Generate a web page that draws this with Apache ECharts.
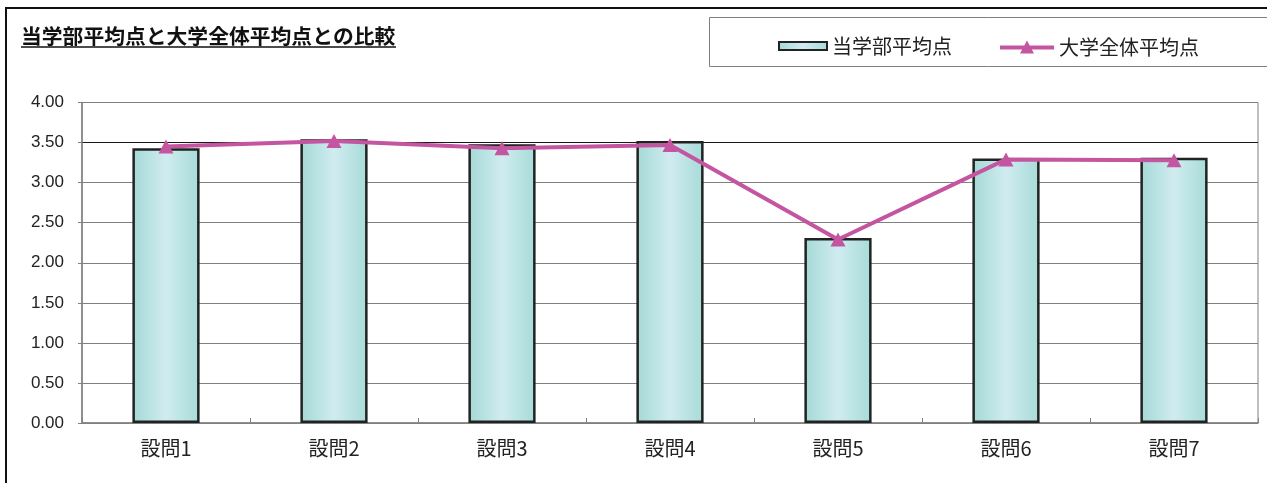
<!DOCTYPE html>
<html>
<head>
<meta charset="utf-8">
<script src="https://cdn.jsdelivr.net/npm/echarts@6/dist/echarts.min.js"></script>
<style>
html,body{margin:0;padding:0;background:#fff;}
#c{width:1267px;height:483px;}
</style>
</head>
<body>
<div id="c"></div>
<script>
const titleText = '当学部平均点と大学全体平均点との比較';
const categories = ['設問1','設問2','設問3','設問4','設問5','設問6','設問7'];
const facultyName = '当学部平均点';
const universityName = '大学全体平均点';
const facultyAvg = [3.43, 3.54, 3.48, 3.52, 2.31, 3.30, 3.31];
const universityAvg = [3.45, 3.52, 3.43, 3.47, 2.29, 3.29, 3.28];

const jp = '"Noto Sans CJK JP", sans-serif';
const chart = echarts.init(document.getElementById('c'), null, {renderer:'canvas'});
const barFill = new echarts.graphic.LinearGradient(0,0,1,0,[
  {offset:0, color:'#a4d9d5'},
  {offset:0.5, color:'#d0ecf1'},
  {offset:1, color:'#a6dbd6'}
]);
const lineColor = '#c455a0';
const gridColors = ['#808080','#808080','#808080','#808080','#808080','#808080','#808080','#1a1a1a','#808080'];
chart.setOption({
  animation:false,
  backgroundColor:'#fff',
  grid:{left:82, right:9, top:102.5, bottom:60, show:true, borderColor:'#808080', borderWidth:1, backgroundColor:'transparent'},
  legend:[
    {
      left:773, top:31, itemWidth:48, itemHeight:8,
      textStyle:{fontFamily:jp, fontSize:20, color:'#222'},
      data:[{name:facultyName, icon:'rect'}]
    },
    {
      left:995, top:32, itemWidth:54, itemHeight:14,
      textStyle:{fontFamily:jp, fontSize:20, color:'#222'},
      data:[{name:universityName, icon:'path://M0,5 L54,5 L54,9 L0,9 Z M20,13 L27,0 L34,13 Z',
             itemStyle:{color:lineColor, borderWidth:0}}]
    }
  ],
  xAxis:{
    type:'category', data:categories,
    axisLine:{lineStyle:{color:'#808080', width:1.5}},
    axisTick:{show:true, inside:true, length:5, lineStyle:{color:'#808080'}},
    axisLabel:{fontFamily:jp, fontSize:20, color:'#222', margin:15},
    splitLine:{show:false}
  },
  yAxis:{
    type:'value', min:0, max:4, interval:0.5,
    axisLine:{show:true, lineStyle:{color:'#808080', width:1.5}},
    axisTick:{show:true, length:4, lineStyle:{color:'#808080'}},
    axisLabel:{formatter:v=>v.toFixed(2), fontFamily:'"Liberation Sans", Arial, sans-serif', fontSize:17, color:'#222', margin:18},
    splitLine:{show:true, lineStyle:{color:gridColors, width:1.2}}
  },
  series:[
    {
      name:facultyName, type:'bar', data:facultyAvg, barWidth:'40%',
      itemStyle:{color:barFill, borderColor:'#222', borderWidth:2.5},
      z:2
    },
    {
      name:universityName, type:'line', data:universityAvg,
      symbol:'triangle', symbolSize:[15,14], showSymbol:true,
      lineStyle:{color:lineColor, width:4},
      itemStyle:{color:lineColor, borderWidth:0},
      z:3
    }
  ],
  graphic:[
    {type:'rect', shape:{x:6, y:8, width:1400, height:600}, style:{fill:'none', stroke:'#111', lineWidth:2}, silent:true, z:-1},
    {type:'rect', shape:{x:709.5, y:17.5, width:700, height:49}, style:{fill:'none', stroke:'#808080', lineWidth:1}, silent:true, z:-1},
    {type:'text', left:21, top:26, style:{text:titleText, font:'bold 20.8px "Noto Sans CJK JP", sans-serif', fill:'#111'}},
    {type:'line', shape:{x1:21, y1:47, x2:396, y2:47}, style:{stroke:'#111', lineWidth:1.5}}
  ]
});
</script>
</body>
</html>
